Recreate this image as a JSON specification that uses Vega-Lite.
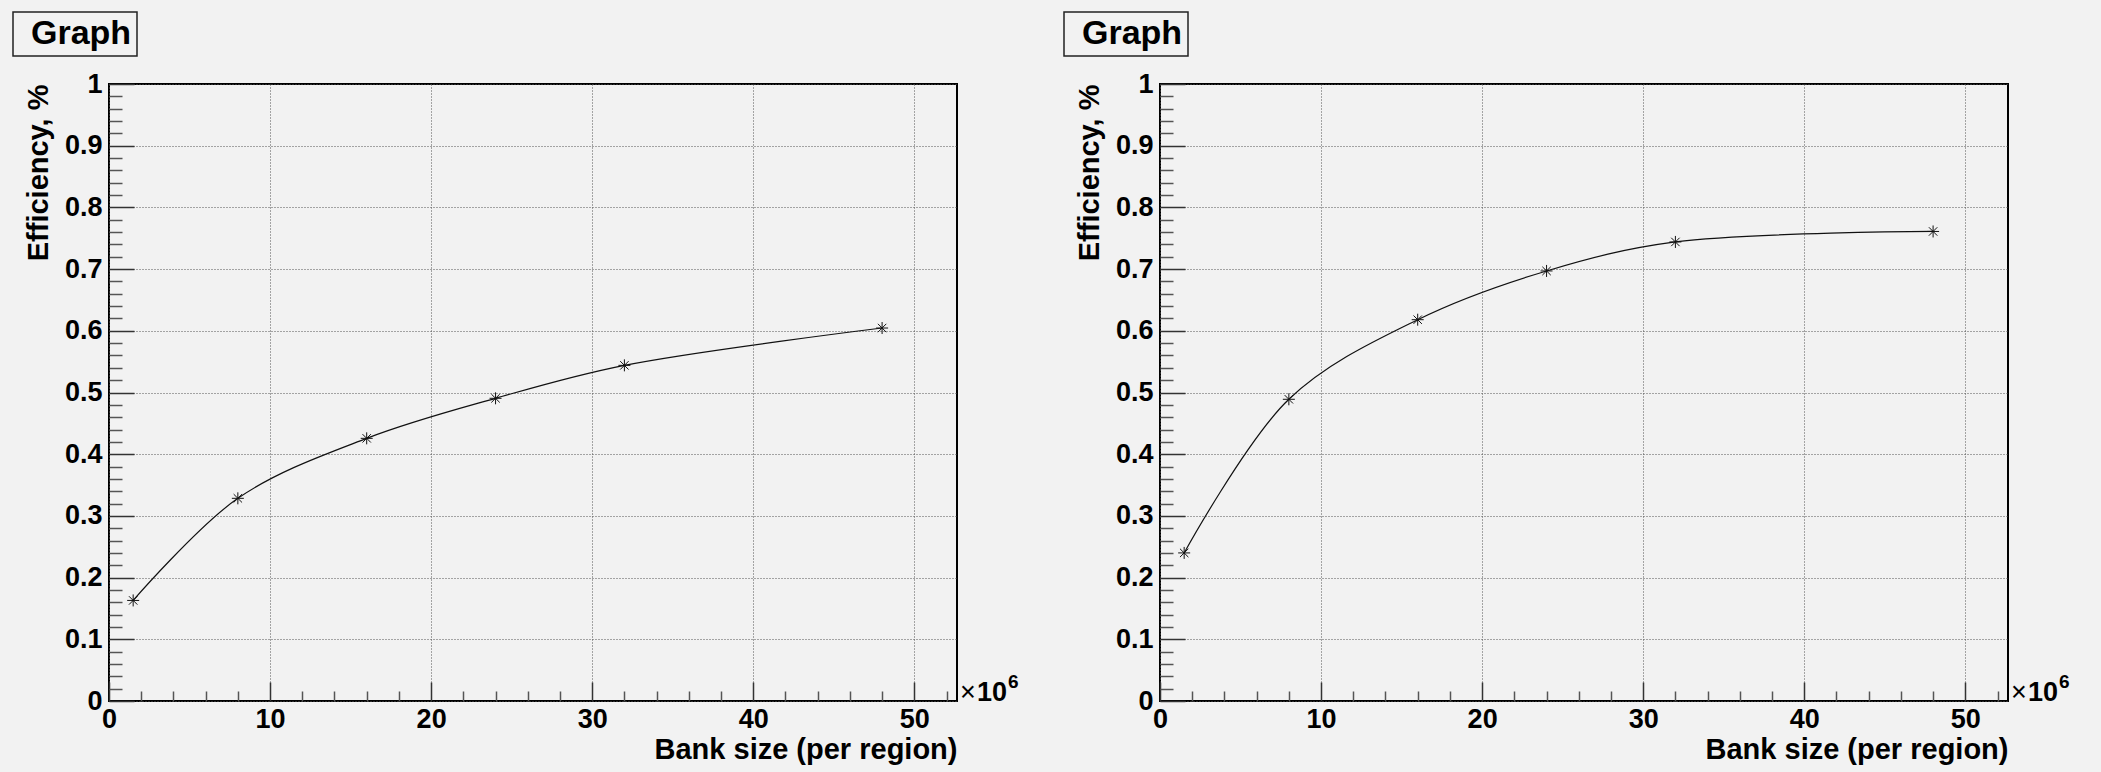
{
  "$schema": "https://vega.github.io/schema/vega-lite/v6.json",
  "background": "#f2f2f2",
  "padding": {"left": 11, "top": 10, "right": 44, "bottom": 8},
  "resolve": {"scale": {"color": "independent"}, "legend": {"color": "independent"}},
  "config": {
    "font": "Liberation Sans",
    "view": {"stroke": "#000000", "strokeWidth": 2, "fill": "#f2f2f2"},
    "axis": {
      "labelFont": "Liberation Sans",
      "labelFontSize": 27,
      "labelFontWeight": "bold",
      "labelColor": "#000000",
      "titleFont": "Liberation Sans",
      "titleFontSize": 29,
      "titleFontWeight": "bold",
      "titleColor": "#000000",
      "domain": false,
      "gridColor": "#555555",
      "gridDash": [1, 2],
      "gridWidth": 1,
      "tickColor": "#333333",
      "tickWidth": 1.5
    },
    "legend": {
      "orient": "none",
      "legendX": -96,
      "legendY": -72,
      "title": null,
      "padding": 5,
      "strokeColor": "#222222",
      "strokeWidth": 1.5,
      "fillColor": "#f2f2f2",
      "labelFont": "Liberation Sans",
      "labelFontSize": 34,
      "labelFontWeight": "bold",
      "labelColor": "#000000",
      "labelOffset": -21,
      "symbolType": "square",
      "symbolSize": 16,
      "symbolOpacity": 0,
      "symbolStrokeWidth": 0
    }
  },
  "spacing": 42,
  "hconcat": [
    {
      "width": 848,
      "height": 617,
      "data": {"values": [
        {"bank": 1.5, "eff": 0.163},
        {"bank": 8, "eff": 0.3285},
        {"bank": 16, "eff": 0.4257},
        {"bank": 24, "eff": 0.4906},
        {"bank": 32, "eff": 0.544},
        {"bank": 48, "eff": 0.6045}
      ]},
      "resolve": {"axis": {"x": "independent", "y": "independent"}},
      "layer": [
        {
          "mark": {"type": "line", "interpolate": "catmull-rom", "strokeWidth": 1.2},
          "encoding": {
            "x": {"field": "bank", "type": "quantitative", "scale": {"domain": [0, 52.65], "nice": false, "zero": false},
              "axis": {"orient": "bottom", "values": [0, 10, 20, 30, 40, 50], "format": "d", "labelFlush": false, "labelOverlap": false, "tickSize": -19, "labelPadding": 24, "grid": true, "title": "Bank size (per region)", "titleAnchor": "end", "titlePadding": 3}},
            "y": {"field": "eff", "type": "quantitative", "scale": {"domain": [0, 1], "nice": false, "zero": false},
              "axis": {"orient": "left", "values": [0, 0.1, 0.2, 0.3, 0.4, 0.5, 0.6, 0.7, 0.8, 0.9, 1], "format": "~g", "labelOverlap": false, "tickSize": -25, "labelPadding": 32, "grid": true, "title": "Efficiency, %", "titleAnchor": "end", "titlePadding": 11}},
            "color": {"datum": "Graph", "type": "nominal", "scale": {"range": ["#111111"]},
              "legend": {"orient": "none", "legendX": -96, "legendY": -72, "symbolType": "square", "symbolSize": 16, "symbolOpacity": 0, "symbolStrokeWidth": 0, "labelOffset": -21, "padding": 5}}
          }
        },
        {
          "mark": {"type": "point", "shape": "M-1,0H1M0,-1V1M-0.7,-0.7L0.7,0.7M-0.7,0.7L0.7,-0.7", "size": 144, "filled": false, "strokeWidth": 1, "opacity": 1},
          "encoding": {
            "x": {"field": "bank", "type": "quantitative",
              "axis": {"orient": "bottom", "values": [2, 4, 6, 8, 12, 14, 16, 18, 22, 24, 26, 28, 32, 34, 36, 38, 42, 44, 46, 48, 52], "labels": false, "grid": false, "title": null, "tickSize": -10, "tickColor": "#555555"}},
            "y": {"field": "eff", "type": "quantitative",
              "axis": {"orient": "left", "values": [0.02, 0.04, 0.06, 0.08, 0.12, 0.14, 0.16, 0.18, 0.22, 0.24, 0.26, 0.28, 0.32, 0.34, 0.36, 0.38, 0.42, 0.44, 0.46, 0.48, 0.52, 0.54, 0.56, 0.58, 0.62, 0.64, 0.66, 0.68, 0.72, 0.74, 0.76, 0.78, 0.82, 0.84, 0.86, 0.88, 0.92, 0.94, 0.96, 0.98], "labels": false, "grid": false, "title": null, "tickSize": -13, "tickColor": "#555555"}},
            "color": {"datum": "Graph", "type": "nominal"}
          }
        },
        {
          "data": {"values": [{"t": "×"}]},
          "mark": {"type": "text", "font": "Liberation Sans", "fontSize": 27, "fontWeight": "normal", "color": "#000000", "align": "left", "baseline": "alphabetic", "dx": 3},
          "encoding": {
            "x": {"datum": 52.65, "type": "quantitative", "axis": null},
            "y": {"datum": 0, "type": "quantitative", "axis": null},
            "text": {"field": "t", "type": "nominal"}
          }
        },
        {
          "data": {"values": [{"t": "10"}]},
          "mark": {"type": "text", "font": "Liberation Sans", "fontSize": 27, "fontWeight": "bold", "color": "#000000", "align": "left", "baseline": "alphabetic", "dx": 20},
          "encoding": {
            "x": {"datum": 52.65, "type": "quantitative", "axis": null},
            "y": {"datum": 0, "type": "quantitative", "axis": null},
            "text": {"field": "t", "type": "nominal"}
          }
        },
        {
          "data": {"values": [{"t": "6"}]},
          "mark": {"type": "text", "font": "Liberation Sans", "fontSize": 19, "fontWeight": "bold", "color": "#000000", "align": "left", "baseline": "alphabetic", "dx": 51, "dy": -13},
          "encoding": {
            "x": {"datum": 52.65, "type": "quantitative", "axis": null},
            "y": {"datum": 0, "type": "quantitative", "axis": null},
            "text": {"field": "t", "type": "nominal"}
          }
        }
      ]
    },
    {
      "width": 848,
      "height": 617,
      "data": {"values": [
        {"bank": 1.5, "eff": 0.24},
        {"bank": 8, "eff": 0.489},
        {"bank": 16, "eff": 0.618},
        {"bank": 24, "eff": 0.697},
        {"bank": 32, "eff": 0.744},
        {"bank": 48, "eff": 0.761}
      ]},
      "resolve": {"axis": {"x": "independent", "y": "independent"}},
      "layer": [
        {
          "mark": {"type": "line", "interpolate": "catmull-rom", "strokeWidth": 1.2},
          "encoding": {
            "x": {"field": "bank", "type": "quantitative", "scale": {"domain": [0, 52.65], "nice": false, "zero": false},
              "axis": {"orient": "bottom", "values": [0, 10, 20, 30, 40, 50], "format": "d", "labelFlush": false, "labelOverlap": false, "tickSize": -19, "labelPadding": 24, "grid": true, "title": "Bank size (per region)", "titleAnchor": "end", "titlePadding": 3}},
            "y": {"field": "eff", "type": "quantitative", "scale": {"domain": [0, 1], "nice": false, "zero": false},
              "axis": {"orient": "left", "values": [0, 0.1, 0.2, 0.3, 0.4, 0.5, 0.6, 0.7, 0.8, 0.9, 1], "format": "~g", "labelOverlap": false, "tickSize": -25, "labelPadding": 32, "grid": true, "title": "Efficiency, %", "titleAnchor": "end", "titlePadding": 11}},
            "color": {"datum": "Graph", "type": "nominal", "scale": {"range": ["#111111"]},
              "legend": {"orient": "none", "legendX": -96, "legendY": -72, "symbolType": "square", "symbolSize": 16, "symbolOpacity": 0, "symbolStrokeWidth": 0, "labelOffset": -21, "padding": 5}}
          }
        },
        {
          "mark": {"type": "point", "shape": "M-1,0H1M0,-1V1M-0.7,-0.7L0.7,0.7M-0.7,0.7L0.7,-0.7", "size": 144, "filled": false, "strokeWidth": 1, "opacity": 1},
          "encoding": {
            "x": {"field": "bank", "type": "quantitative",
              "axis": {"orient": "bottom", "values": [2, 4, 6, 8, 12, 14, 16, 18, 22, 24, 26, 28, 32, 34, 36, 38, 42, 44, 46, 48, 52], "labels": false, "grid": false, "title": null, "tickSize": -10, "tickColor": "#555555"}},
            "y": {"field": "eff", "type": "quantitative",
              "axis": {"orient": "left", "values": [0.02, 0.04, 0.06, 0.08, 0.12, 0.14, 0.16, 0.18, 0.22, 0.24, 0.26, 0.28, 0.32, 0.34, 0.36, 0.38, 0.42, 0.44, 0.46, 0.48, 0.52, 0.54, 0.56, 0.58, 0.62, 0.64, 0.66, 0.68, 0.72, 0.74, 0.76, 0.78, 0.82, 0.84, 0.86, 0.88, 0.92, 0.94, 0.96, 0.98], "labels": false, "grid": false, "title": null, "tickSize": -13, "tickColor": "#555555"}},
            "color": {"datum": "Graph", "type": "nominal"}
          }
        },
        {
          "data": {"values": [{"t": "×"}]},
          "mark": {"type": "text", "font": "Liberation Sans", "fontSize": 27, "fontWeight": "normal", "color": "#000000", "align": "left", "baseline": "alphabetic", "dx": 3},
          "encoding": {
            "x": {"datum": 52.65, "type": "quantitative", "axis": null},
            "y": {"datum": 0, "type": "quantitative", "axis": null},
            "text": {"field": "t", "type": "nominal"}
          }
        },
        {
          "data": {"values": [{"t": "10"}]},
          "mark": {"type": "text", "font": "Liberation Sans", "fontSize": 27, "fontWeight": "bold", "color": "#000000", "align": "left", "baseline": "alphabetic", "dx": 20},
          "encoding": {
            "x": {"datum": 52.65, "type": "quantitative", "axis": null},
            "y": {"datum": 0, "type": "quantitative", "axis": null},
            "text": {"field": "t", "type": "nominal"}
          }
        },
        {
          "data": {"values": [{"t": "6"}]},
          "mark": {"type": "text", "font": "Liberation Sans", "fontSize": 19, "fontWeight": "bold", "color": "#000000", "align": "left", "baseline": "alphabetic", "dx": 51, "dy": -13},
          "encoding": {
            "x": {"datum": 52.65, "type": "quantitative", "axis": null},
            "y": {"datum": 0, "type": "quantitative", "axis": null},
            "text": {"field": "t", "type": "nominal"}
          }
        }
      ]
    }
  ]
}
